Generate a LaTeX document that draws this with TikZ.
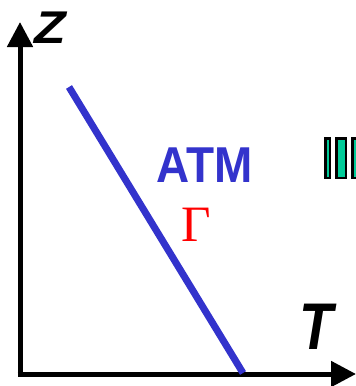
\documentclass[tikz,border=0pt]{standalone}
\usepackage{graphicx}
\usepackage{fontspec}
\setmainfont{Liberation Sans}
\newfontfamily\serifg{Liberation Serif}
\usetikzlibrary{arrows.meta}
\definecolor{atmblue}{HTML}{3333CC}
\definecolor{bargreen}{HTML}{00CC99}
\begin{document}
\begin{tikzpicture}[x=1pt,y=-1pt,
  axis/.style={line width=5pt,-{Triangle[length=25pt,width=25pt]}},
  bar/.style={draw=black,fill=bargreen,line width=2.5pt,inner sep=0pt,minimum height=39.5pt},
  lbl/.style={inner sep=0pt,anchor=center}]
\useasboundingbox (0,0) rectangle (356,386);
\coordinate (o) at (20,374);
\coordinate (ztip) at (20,22);
\coordinate (ttip) at (356,374);
\draw[axis] (o) ++(0,2.5) -- (ztip);
\draw[axis] (o) ++(-2.5,0) -- (ttip);
\coordinate (la) at (69,87);
\coordinate (lb) at (243,373);
\draw[atmblue,line width=7pt] (la) -- (lb);
\node[lbl] (z) at (50.5,28) {\scalebox{1.15}[1.02]{\fontsize{45}{45}\selectfont\bfseries\itshape Z}};
\node[lbl] (t) at (316,326.5) {\scalebox{1}[1.2]{\fontsize{55}{55}\selectfont\bfseries\itshape T}};
\node[lbl,text=atmblue] (atm) at (204.5,165) {\scalebox{1.02}[1.12]{\fontsize{45}{45}\selectfont\bfseries ATM}};
\node[lbl,text=red] (g) at (196,225) {\serifg\fontsize{51}{51}\selectfont Γ};
\begin{scope}
\clip (0,0) rectangle (356,386);
\node[bar,minimum width=4.5pt] (b1) at (327.5,158) {};
\node[bar,minimum width=9.5pt] (b2) at (341,158) {};
\node[bar,minimum width=8pt] (b3) at (356.25,158) {};
\end{scope}
\end{tikzpicture}
\end{document}
